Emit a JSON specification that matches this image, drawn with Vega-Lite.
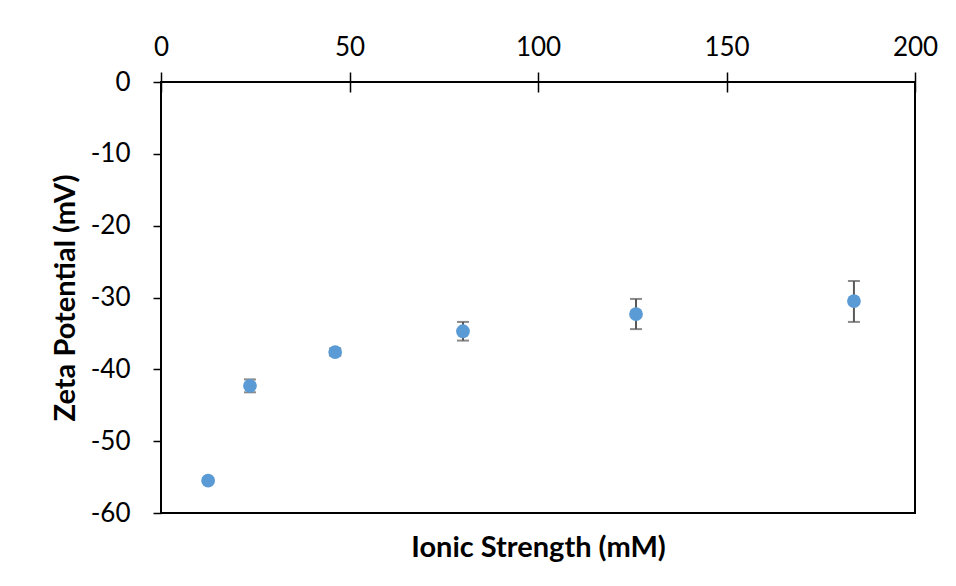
{
  "$schema": "https://vega.github.io/schema/vega-lite/v6.json",
  "autosize": "none",
  "padding": {"left": 161, "top": 82, "right": 41, "bottom": 73},
  "width": 754,
  "height": 431,
  "background": "white",
  "config": {
    "view": {"stroke": "black", "strokeWidth": 2},
    "font": "Lato",
    "axis": {"grid": false, "labelFont": "Lato", "titleFont": "Lato", "labelColor": "black", "titleColor": "black"}
  },
  "data": {
    "values": [
      {"strength": 12.5, "zeta": -55.5, "low": -55.8, "high": -55.2},
      {"strength": 23.6, "zeta": -42.3, "low": -43.2, "high": -41.4},
      {"strength": 46.2, "zeta": -37.6, "low": -38.1, "high": -37.1},
      {"strength": 80.1, "zeta": -34.7, "low": -36.0, "high": -33.4},
      {"strength": 126.0, "zeta": -32.3, "low": -34.4, "high": -30.2},
      {"strength": 183.8, "zeta": -30.5, "low": -33.4, "high": -27.7}
    ]
  },
  "resolve": {"axis": {"x": "independent"}},
  "layer": [
    {
      "mark": {
        "type": "errorbar",
        "ticks": {"size": 12, "thickness": 2, "color": "#595959"},
        "rule": {"strokeWidth": 2, "color": "#595959"}
      },
      "encoding": {
        "x": {
          "field": "strength", "type": "quantitative",
          "scale": {"domain": [0, 200], "nice": false},
          "axis": {"orient": "bottom", "title": "Ionic Strength (mM)", "labels": false, "ticks": false, "domain": false, "titleFontSize": 29, "titleFontWeight": "bold", "titlePadding": 20}
        },
        "y": {
          "field": "low", "type": "quantitative",
          "scale": {"domain": [-60, 0], "nice": false, "zero": false},
          "axis": {"title": "Zeta Potential (mV)", "values": [0, -10, -20, -30, -40, -50, -60], "labelExpr": "'' + datum.value", "labelFlush": false, "domain": false, "tickSize": 8, "tickWidth": 1.5, "tickColor": "black", "labelFontSize": 26, "labelPadding": 23, "titleFontSize": 29, "titleFontWeight": "bold", "titlePadding": 10}
        },
        "y2": {"field": "high"}
      }
    },
    {
      "mark": {"type": "circle", "size": 190, "color": "#5B9BD5", "opacity": 1},
      "encoding": {
        "x": {
          "field": "strength", "type": "quantitative",
          "scale": {"domain": [0, 200], "nice": false},
          "axis": {"orient": "top", "title": null, "values": [0, 50, 100, 150, 200], "labelFlush": false, "domain": false, "offset": -10, "tickSize": 20, "tickWidth": 1.5, "tickColor": "black", "labelFontSize": 26, "labelPadding": 12}
        },
        "y": {"field": "zeta", "type": "quantitative"}
      }
    }
  ]
}
